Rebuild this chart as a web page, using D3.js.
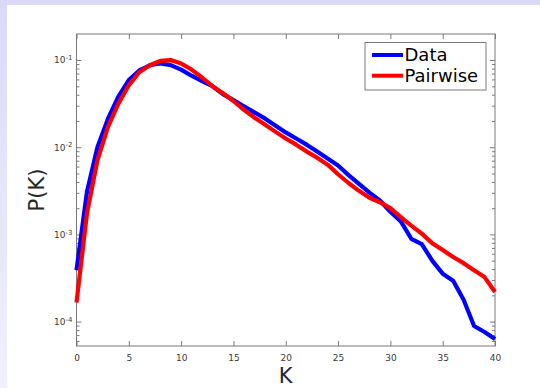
<!DOCTYPE html>
<html>
<head>
<meta charset="utf-8">
<script src="https://cdn.jsdelivr.net/npm/d3@7"></script>
<style>
  html, body { margin: 0; padding: 0; }
  body { width: 540px; height: 388px; overflow: hidden; background: linear-gradient(#dadaf8, #f0f0fe); }
  svg { display: block; }
  text { font-family: "DejaVu Sans", sans-serif; }
</style>
</head>
<body>
<svg id="chart" width="540" height="388"></svg>
<script>
// Degree distribution P(K): observed data vs. pairwise model
const kValues = d3.range(0, 41);

const dataP = [
  3.89e-4, 3.09e-3, 1.00e-2, 2.11e-2, 3.80e-2, 5.89e-2, 7.59e-2, 8.71e-2, 9.12e-2, 8.75e-2,
  7.76e-2, 6.61e-2, 5.75e-2, 5.01e-2, 4.07e-2, 3.47e-2, 2.95e-2, 2.51e-2, 2.14e-2, 1.78e-2,
  1.48e-2, 1.26e-2, 1.07e-2, 8.91e-3, 7.41e-3, 6.17e-3, 4.79e-3, 3.80e-3, 3.02e-3, 2.45e-3,
  1.82e-3, 1.41e-3, 8.91e-4, 7.76e-4, 5.01e-4, 3.55e-4, 2.95e-4, 1.78e-4, 8.91e-5, 7.59e-5,
  6.31e-5
];

const pairwiseP = [
  1.66e-4, 1.74e-3, 7.08e-3, 1.70e-2, 3.16e-2, 5.13e-2, 7.24e-2, 8.71e-2, 9.77e-2, 1.00e-1,
  9.12e-2, 7.76e-2, 6.31e-2, 5.01e-2, 4.17e-2, 3.39e-2, 2.69e-2, 2.19e-2, 1.82e-2, 1.51e-2,
  1.26e-2, 1.07e-2, 8.91e-3, 7.59e-3, 6.31e-3, 4.90e-3, 3.89e-3, 3.16e-3, 2.63e-3, 2.34e-3,
  2.00e-3, 1.58e-3, 1.26e-3, 1.02e-3, 7.94e-4, 6.61e-4, 5.50e-4, 4.68e-4, 3.89e-4, 3.24e-4,
  2.19e-4
];

const xTicks = [0, 5, 10, 15, 20, 25, 30, 35, 40];
const yMajorTicks = [1e-4, 1e-3, 1e-2, 1e-1];
const seriesNames = ["Data", "Pairwise"];
const seriesColors = ["#0000ff", "#ff0000"];

const svg = d3.select("#chart");
const plotLeft = 76.5, plotRight = 495, plotTop = 34, plotBottom = 346;

// white figure panel
svg.append("rect").attr("x", 7).attr("y", 5).attr("width", 533).attr("height", 383).attr("fill", "#ffffff");

const x = d3.scaleLinear().domain([0, 40]).range([plotLeft, plotRight]);
const y = d3.scaleLog().domain([5.25e-5, 0.199]).range([plotBottom, plotTop]);

const axisColor = "#7a7a7a";
const labelColor = "#3a3a3a";
const yMinor = y.ticks().filter(v => !yMajorTicks.some(m => Math.abs(m - v) / m < 1e-6));

function styleAxis(g) {
  g.select(".domain").remove();
  g.selectAll(".tick line").attr("stroke", axisColor).attr("stroke-width", 1);
  g.selectAll(".tick text").attr("fill", labelColor).style("font-size", "9px")
    .style("font-family", '"DejaVu Sans", sans-serif');
}

// x axes (bottom with labels, top ticks only)
svg.append("g").attr("transform", `translate(0,${plotBottom})`)
  .call(d3.axisBottom(x).tickValues(xTicks).tickSizeInner(-5).tickSizeOuter(0).tickPadding(9))
  .call(styleAxis);
svg.append("g").attr("transform", `translate(0,${plotTop})`)
  .call(d3.axisTop(x).tickValues(xTicks).tickSizeInner(-5).tickSizeOuter(0).tickFormat(() => ""))
  .call(styleAxis);

// y axes: majors with power-of-ten labels, minors as short ticks
const yLeftMajor = svg.append("g").attr("transform", `translate(${plotLeft},0)`)
  .call(d3.axisLeft(y).tickValues(yMajorTicks).tickSizeInner(-5).tickSizeOuter(0).tickPadding(4)
    .tickFormat(() => ""))
  .call(styleAxis);
yLeftMajor.selectAll(".tick text").each(function(d) {
  const t = d3.select(this);
  t.append("tspan").text("10");
  t.append("tspan").attr("dy", "-0.45em").style("font-size", "7px").text(String(Math.round(Math.log10(d))));
});
svg.append("g").attr("transform", `translate(${plotLeft},0)`)
  .call(d3.axisLeft(y).tickValues(yMinor).tickSizeInner(-3).tickSizeOuter(0).tickFormat(() => ""))
  .call(styleAxis);
svg.append("g").attr("transform", `translate(${plotRight},0)`)
  .call(d3.axisRight(y).tickValues(yMajorTicks).tickSizeInner(-5).tickSizeOuter(0).tickFormat(() => ""))
  .call(styleAxis);
svg.append("g").attr("transform", `translate(${plotRight},0)`)
  .call(d3.axisRight(y).tickValues(yMinor).tickSizeInner(-3).tickSizeOuter(0).tickFormat(() => ""))
  .call(styleAxis);

// plot box
svg.append("rect").attr("x", plotLeft).attr("y", plotTop)
  .attr("width", plotRight - plotLeft).attr("height", plotBottom - plotTop)
  .attr("fill", "none").attr("stroke", axisColor).attr("stroke-width", 1);

// curves
const line = d3.line().x((d, i) => x(kValues[i])).y(d => y(d));
[dataP, pairwiseP].forEach((series, i) => {
  svg.append("path").datum(series).attr("d", line)
    .attr("fill", "none").attr("stroke", seriesColors[i]).attr("stroke-width", 4.2)
    .attr("stroke-linejoin", "round").attr("stroke-linecap", "butt");
});

// axis titles
svg.append("text").attr("x", (plotLeft + plotRight) / 2).attr("y", 383).attr("text-anchor", "middle")
  .attr("fill", "#262626").style("font-size", "21px").text("K");
svg.append("text").attr("transform", `translate(44,${(plotTop + plotBottom) / 2}) rotate(-90)`)
  .attr("text-anchor", "middle").attr("fill", "#262626").style("font-size", "21px").text("P(K)");

// legend
const legend = svg.append("g");
legend.append("rect").attr("x", 365).attr("y", 42.5).attr("width", 121).attr("height", 47.5)
  .attr("fill", "#ffffff").attr("stroke", axisColor).attr("stroke-width", 1);
seriesNames.forEach((name, i) => {
  const cy = 55 + i * 20.7;
  legend.append("line").attr("x1", 372).attr("x2", 403).attr("y1", cy).attr("y2", cy)
    .attr("stroke", seriesColors[i]).attr("stroke-width", 4);
  legend.append("text").attr("x", 404.5).attr("y", cy + 6.3).attr("fill", "#000")
    .style("font-size", "18px").text(name);
});
</script>
</body>
</html>
